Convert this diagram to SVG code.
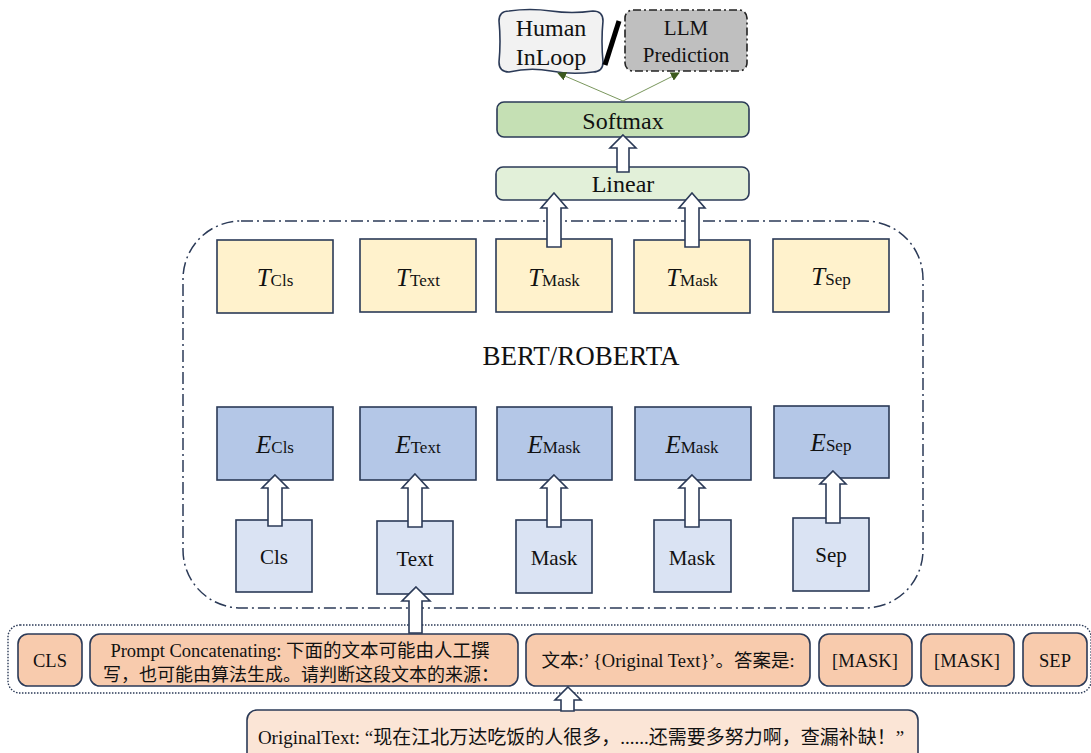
<svg xmlns="http://www.w3.org/2000/svg" width="1091" height="753" viewBox="0 0 1091 753">
<defs>
<style>
.s{font-family:'Liberation Serif','Noto Sans CJK SC',serif;fill:#111;}
.box{stroke:#2b3a57;stroke-width:1.6;}
.t{fill:#fff2cc;}
.e{fill:#b4c7e7;}
.i{fill:#dae3f3;}
.p{fill:#f8cbad;}
.blk{fill:#fff;stroke:#2b3a57;stroke-width:1.6;stroke-linejoin:miter;}
.g{stroke:#6a8a4a;stroke-width:0.9;fill:none;}
</style>
<marker id="ga" viewBox="0 0 10 10" refX="9" refY="5" markerWidth="9" markerHeight="9" orient="auto" markerUnits="userSpaceOnUse">
<path d="M0,0 L10,5 L0,10 Z" fill="#3d5a1e"/>
</marker>
</defs>
<rect width="1091" height="753" fill="#fff"/>

<!-- containers -->
<g id="bert">
<rect x="183" y="221" width="740" height="387" rx="58" fill="none" stroke="#2b3a57" stroke-width="1.5" stroke-dasharray="12 4 2 4"/>
<text class="s" x="581" y="365" font-size="27" text-anchor="middle">BERT/ROBERTA</text>
</g>
<g id="inputrow">
<rect x="8" y="625" width="1083" height="68" rx="12" fill="none" stroke="#2b3a57" stroke-width="1.4" stroke-dasharray="1.5 1.5"/>
</g>

<!-- top outputs -->
<g id="human">
<path d="M509 11 Q530 8 551 11 T593 11 Q603 11 603 21 Q601 41 603 62 Q603 72 593 72 Q572 75 551 71 T509 72 Q499 72 499 62 Q501 41 499 21 Q499 11 509 11 Z" fill="#f2f2f2" stroke="#2b3a57" stroke-width="1.6"/>
<text class="s" x="551" y="36" font-size="24" text-anchor="middle">Human</text>
<text class="s" x="551" y="65" font-size="24" text-anchor="middle">InLoop</text>
</g>
<g id="slash">
<line x1="619" y1="21" x2="605" y2="65" stroke="#000" stroke-width="5"/>
</g>
<g id="llm">
<rect x="625" y="10" width="122" height="61" rx="8" fill="#bfbfbf" stroke="#222" stroke-width="1.6" stroke-dasharray="8 3 2 3"/>
<text class="s" x="686" y="35" font-size="21" text-anchor="middle">LLM</text>
<text class="s" x="686" y="62" font-size="21" text-anchor="middle">Prediction</text>
</g>
<g id="softmax">
<rect class="box" x="497" y="102" width="252" height="35" rx="7" fill="#c5e0b4"/>
<text class="s" x="623" y="129" font-size="24" text-anchor="middle">Softmax</text>
</g>
<g id="linear">
<rect class="box" x="496" y="167" width="253" height="33" rx="7" fill="#e2f0d9"/>
<text class="s" x="623" y="192" font-size="24" text-anchor="middle">Linear</text>
</g>

<!-- T row -->
<g id="tcls"><rect class="box t" x="217" y="240" width="116" height="73"/><text class="s" x="275" y="286" text-anchor="middle"><tspan font-style="italic" font-size="25">T</tspan><tspan font-size="17">Cls</tspan></text></g>
<g id="ttext"><rect class="box t" x="360" y="239" width="116" height="73"/><text class="s" x="418" y="286" text-anchor="middle"><tspan font-style="italic" font-size="25">T</tspan><tspan font-size="17">Text</tspan></text></g>
<g id="tmask1"><rect class="box t" x="496" y="239" width="116" height="73"/><text class="s" x="554" y="286" text-anchor="middle"><tspan font-style="italic" font-size="25">T</tspan><tspan font-size="17">Mask</tspan></text></g>
<g id="tmask2"><rect class="box t" x="634" y="240" width="116" height="73"/><text class="s" x="692" y="286" text-anchor="middle"><tspan font-style="italic" font-size="25">T</tspan><tspan font-size="17">Mask</tspan></text></g>
<g id="tsep"><rect class="box t" x="773" y="239" width="116" height="73"/><text class="s" x="831" y="285" text-anchor="middle"><tspan font-style="italic" font-size="25">T</tspan><tspan font-size="17">Sep</tspan></text></g>

<!-- E row -->
<g id="ecls"><rect class="box e" x="217" y="407" width="116" height="73"/><text class="s" x="275" y="453" text-anchor="middle"><tspan font-style="italic" font-size="25">E</tspan><tspan font-size="17">Cls</tspan></text></g>
<g id="etext"><rect class="box e" x="360" y="407" width="116" height="73"/><text class="s" x="418" y="453" text-anchor="middle"><tspan font-style="italic" font-size="25">E</tspan><tspan font-size="17">Text</tspan></text></g>
<g id="emask1"><rect class="box e" x="497" y="407" width="115" height="73"/><text class="s" x="554" y="453" text-anchor="middle"><tspan font-style="italic" font-size="25">E</tspan><tspan font-size="17">Mask</tspan></text></g>
<g id="emask2"><rect class="box e" x="635" y="407" width="116" height="73"/><text class="s" x="692" y="453" text-anchor="middle"><tspan font-style="italic" font-size="25">E</tspan><tspan font-size="17">Mask</tspan></text></g>
<g id="esep"><rect class="box e" x="774" y="406" width="115" height="72"/><text class="s" x="831" y="451" text-anchor="middle"><tspan font-style="italic" font-size="25">E</tspan><tspan font-size="17">Sep</tspan></text></g>

<!-- input token boxes -->
<g id="icls"><rect class="box i" x="236" y="520" width="76" height="72"/><text class="s" x="274" y="564" font-size="21" text-anchor="middle">Cls</text></g>
<g id="itext"><rect class="box i" x="377" y="521" width="76" height="73"/><text class="s" x="415" y="566" font-size="21" text-anchor="middle">Text</text></g>
<g id="imask1"><rect class="box i" x="516" y="520" width="76" height="73"/><text class="s" x="554" y="565" font-size="21" text-anchor="middle">Mask</text></g>
<g id="imask2"><rect class="box i" x="654" y="520" width="77" height="72"/><text class="s" x="692" y="565" font-size="21" text-anchor="middle">Mask</text></g>
<g id="isep"><rect class="box i" x="793" y="518" width="76" height="73"/><text class="s" x="831" y="562" font-size="21" text-anchor="middle">Sep</text></g>

<!-- prompt row -->
<g id="pcls"><rect class="box p" x="18" y="634" width="64" height="52" rx="10"/><text class="s" x="50" y="667" font-size="18.5" text-anchor="middle">CLS</text></g>
<g id="pprompt"><rect class="box p" x="90" y="634" width="428" height="52" rx="10"/>
<text class="s" x="300" y="657" font-size="18.5" text-anchor="middle">Prompt Concatenating: 下面的文本可能由人工撰</text>
<text class="s" x="301" y="681" font-size="18" text-anchor="middle">写，也可能由算法生成。请判断这段文本的来源：</text></g>
<g id="ptext"><rect class="box p" x="526" y="634" width="284" height="52" rx="10"/><text class="s" x="668" y="667" font-size="18.5" text-anchor="middle">文本:’ {Original Text}’。答案是:</text></g>
<g id="pmask1"><rect class="box p" x="819" y="634" width="93" height="52" rx="10"/><text class="s" x="865" y="667" font-size="18.5" text-anchor="middle">[MASK]</text></g>
<g id="pmask2"><rect class="box p" x="921" y="634" width="93" height="52" rx="10"/><text class="s" x="967" y="667" font-size="18.5" text-anchor="middle">[MASK]</text></g>
<g id="psep"><rect class="box p" x="1023" y="633" width="64" height="53" rx="10"/><text class="s" x="1055" y="667" font-size="18.5" text-anchor="middle">SEP</text></g>

<g id="original"><rect x="247" y="710" width="671" height="60" rx="10" fill="#fbe5d6" stroke="#2b3a57" stroke-width="1.6"/><text class="s" x="581" y="744" font-size="19" text-anchor="middle">OriginalText: “现在江北万达吃饭的人很多，......还需要多努力啊，查漏补缺！”</text></g>

<!-- connectors -->
<g id="connectors">
<line class="g" x1="623" y1="101" x2="558" y2="73" marker-end="url(#ga)"/>
<line class="g" x1="623" y1="101" x2="679" y2="73" marker-end="url(#ga)"/>
<polygon class="blk" points="623,135 636,148 629,148 629,172 617,172 617,148 610,148"/>
<polygon class="blk" points="554,193 567,208 561,208 561,247 547,247 547,208 541,208"/>
<polygon class="blk" points="692,193 705,208 699,208 699,247 685,247 685,208 679,208"/>
<polygon class="blk" points="275,475 288,488 282,488 282,526 268,526 268,488 262,488"/>
<polygon class="blk" points="415,474 428,488 422,488 422,527 408,527 408,488 402,488"/>
<polygon class="blk" points="554,475 567,488 561,488 561,527 547,527 547,488 541,488"/>
<polygon class="blk" points="692,475 705,488 699,488 699,527 685,527 685,488 679,488"/>
<polygon class="blk" points="833,471 846,484 840,484 840,523 826,523 826,484 820,484"/>
<polygon class="blk" points="416,587 430,601 422,601 422,633 409,633 409,601 402,601"/>
<polygon class="blk" points="568,687 581,700 574,700 574,711 561,711 561,700 555,700"/>
</g>
</svg>
